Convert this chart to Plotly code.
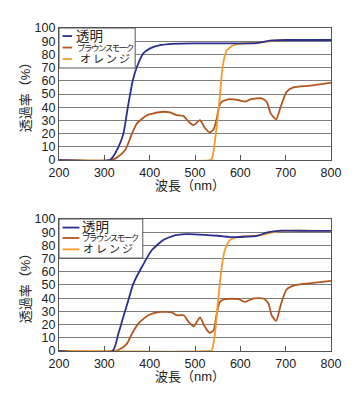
import plotly.graph_objects as go

# ---------------- data ----------------
names = ["透明", "ブラウンスモーク", "オレンジ"]
x_title = "波長（nm）"
y_title = "透過率（%）"
x_ticks = [200, 300, 400, 500, 600, 700, 800]
y_ticks = [0, 10, 20, 30, 40, 50, 60, 70, 80, 90, 100]

# upper chart
top_clear_wl = [200, 312, 318, 330, 342, 352, 363, 372, 386, 401, 423, 450, 500, 550, 600, 636, 665, 700, 750, 800]
top_clear = [0, 0, 2, 9, 20, 40.4, 60.6, 70.7, 80.8, 84.6, 87, 88, 88.4, 88.4, 88.4, 88.6, 90.4, 90.9, 90.9, 90.9]

top_brown_wl = [200, 316, 330, 346, 361, 372, 394, 410, 430, 445, 460, 475, 486, 497, 511, 520, 532, 541, 548, 553,
                559, 577, 595, 610, 622, 636, 647, 658, 667, 679, 689, 702, 717, 754, 800]
top_brown = [0, 0, 2.5, 7.6, 20, 27.8, 34, 35.5, 36.6, 36.1, 34.1, 33.3, 29, 26.5, 30.3, 25.3, 21, 23.2, 31.6, 40.4,
             44.2, 46.2, 45.5, 44.2, 46, 46.7, 46.7, 44.2, 35.4, 30.8, 40.4, 51.7, 55, 56.3, 58.6]

top_orange_wl = [200, 533, 537, 541, 546, 554, 561, 570, 585, 600, 640, 670, 700, 800]
top_orange = [0, 0, 1, 7, 20, 45, 70.7, 83, 87, 88, 89, 90, 90.9, 90.9]

# lower chart
bot_clear_wl = [200, 318, 331, 342, 353, 364, 383, 405, 430, 452, 480, 500, 550, 585, 610, 637, 660, 690, 750, 800]
bot_clear = [0, 0, 13.2, 26, 38.5, 51, 63.8, 76.5, 84, 87.3, 88.5, 88.4, 87.3, 86.2, 86.6, 87.3, 89.9, 91.2, 91, 91]

bot_brown_wl = [200, 322, 335, 350, 361, 375, 397, 423, 449, 460, 475, 486, 497, 511, 520, 532, 541, 548, 555, 566,
                596, 610, 629, 651, 662, 669, 679, 689, 702, 721, 761, 800]
bot_brown = [0, 0, 1.5, 5.6, 13.2, 20.8, 27.1, 29.6, 29.2, 27.1, 27.1, 22, 18.7, 25.4, 19.5, 13.7, 15.7, 28.4, 37.2,
             39.3, 39.3, 37.2, 39.8, 39.8, 36, 27.1, 22.8, 34.7, 46.6, 49.9, 51.6, 53.2]

bot_orange_wl = [200, 533, 537, 544, 551, 559, 566, 577, 600, 640, 680, 700, 800]
bot_orange = [0, 0, 0.5, 13, 38.5, 63.8, 76.5, 84, 86.6, 87.5, 90.4, 91, 91]

colors = ["#2b2f8f", "#b3561f", "#f29a2c"]

# ---------------- figure ----------------
fig = go.Figure()

panels = [
    ("x", "y", [(top_clear_wl, top_clear), (top_brown_wl, top_brown), (top_orange_wl, top_orange)]),
    ("x2", "y2", [(bot_clear_wl, bot_clear), (bot_brown_wl, bot_brown), (bot_orange_wl, bot_orange)]),
]
order = [1, 2, 0]
for xa, ya, series in panels:
    for i in order:
        wl, val = series[i]
        fig.add_trace(go.Scatter(
            x=wl, y=val, mode="lines", name=names[i], showlegend=False,
            line=dict(color=colors[i], width=1.8, shape="spline", smoothing=0.6),
            xaxis=xa, yaxis=ya, hoverinfo="skip"))

cjk_family = "Liberation Sans, Noto Sans CJK JP, sans-serif"
tick_font = dict(family="Liberation Sans, Arial, sans-serif", size=12.5, color="#222")
title_font = dict(family=cjk_family, size=13, color="#222")
grid_col = "#7d7d7d"
frame_col = "#555"

def xaxis(anchor):
    return dict(range=[200, 800], tickvals=x_ticks, ticktext=[str(v) for v in x_ticks],
                ticks="inside", ticklen=5, tickwidth=1, tickcolor=frame_col, ticklabelstandoff=1,
                showgrid=False, zeroline=False, showline=True, linecolor=frame_col, linewidth=1.3,
                mirror=True, tickfont=tick_font, anchor=anchor)

def yaxis(anchor, domain):
    return dict(range=[0, 100], tickvals=y_ticks, ticktext=[str(v) for v in y_ticks],
                ticks="", showgrid=True, gridcolor=grid_col, gridwidth=1.4,
                zeroline=False, showline=True, linecolor=frame_col, linewidth=1.3, mirror=True,
                tickfont=tick_font, anchor=anchor, domain=domain,
                title=dict(text=y_title, font=title_font, standoff=0))

# page body has an 8px margin, so the figure is sized/offset to land on the reference pixels
fig.update_layout(
    width=351, height=388, autosize=False,
    margin=dict(l=51, r=28, t=20, b=45),
    paper_bgcolor="white", plot_bgcolor="white",
    xaxis=xaxis("y"), yaxis=yaxis("x", [0.591, 1.0]),
    xaxis2=xaxis("y2"), yaxis2=yaxis("x2", [0.0, 0.4087]),
    showlegend=False,
)

# x-axis titles (placed just under the tick labels)
for xr, yr, ty in [("x domain", "y domain", -0.190), ("x2 domain", "y2 domain", -0.193)]:
    fig.add_annotation(xref=xr, yref=yr, x=0.482, y=ty, text=x_title, showarrow=False,
                       xanchor="center", yanchor="middle", font=title_font)

# ---------------- legends (drawn boxes) ----------------
legend_specs = [
    # xref, yref, box_x1, box_y0, line_x0, line_x1, row_y, text_x
    ("x domain", "y domain", 0.280, 0.697, 0.013, 0.048, [0.939, 0.852, 0.765], [0.060, 0.064, 0.073]),
    ("x2 domain", "y2 domain", 0.308, 0.704, 0.013, 0.075, [0.935, 0.856, 0.770], [0.080, 0.080, 0.084]),
]
legend_labels = [
    f"<span style='font-size:13.5px'>{names[0]}</span>",
    f"<span style='font-size:8.5px; letter-spacing:-1.5px'>{names[1]}</span>",
    f"<span style='font-size:11px; letter-spacing:2px'>{names[2]}</span>",
]
for xr, yr, bx1, by0, lx0, lx1, rows, tx in legend_specs:
    fig.add_shape(type="rect", xref=xr, yref=yr, x0=0, x1=bx1, y0=by0, y1=1,
                  fillcolor="white", line=dict(color=frame_col, width=1), layer="above")
    for i in range(3):
        fig.add_shape(type="line", xref=xr, yref=yr, x0=lx0, x1=lx1, y0=rows[i], y1=rows[i],
                      line=dict(color=colors[i], width=1.8), layer="above")
        fig.add_annotation(xref=xr, yref=yr, x=tx[i], y=rows[i], text=legend_labels[i], showarrow=False,
                           xanchor="left", yanchor="middle", align="left", borderpad=0,
                           font=dict(family=cjk_family, size=9, color="#222"))

fig.write_html("out.html")
